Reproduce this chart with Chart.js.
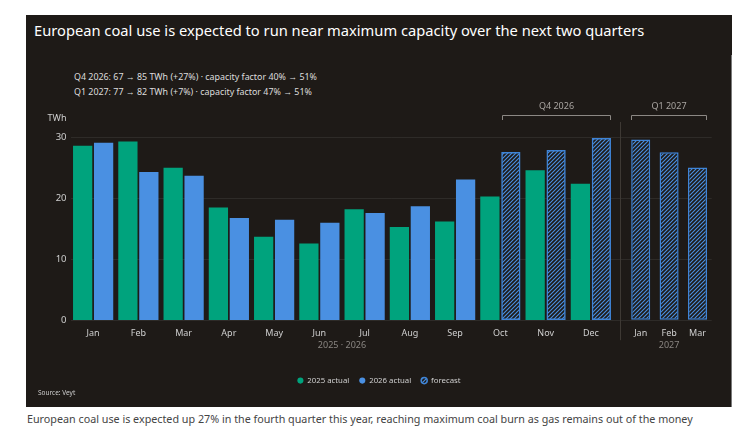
<!DOCTYPE html>
<html><head><meta charset="utf-8">
<script src="https://cdn.jsdelivr.net/npm/chart.js@4"></script>
<style>
html,body{margin:0;padding:0;background:#fff;}
body{width:740px;height:431px;position:relative;overflow:hidden;font-family:'Noto Sans',sans-serif;}
#panel{position:absolute;left:26px;top:15px;width:706px;height:392px;background:#1e1a17;}
#edge{position:absolute;left:731px;top:55px;width:1px;height:352px;background:#7a7a7a;}
#title{position:absolute;left:8px;top:7.6px;font-size:14.7px;line-height:15px;color:#fff;white-space:nowrap;}
.ann{position:absolute;left:48px;font-size:8.9px;line-height:9px;color:#ddd;white-space:nowrap;}
#src{position:absolute;left:12px;top:373.5px;font-size:6.5px;line-height:7px;color:#ccc;white-space:nowrap;}
#cap{position:absolute;left:27px;top:414px;font-size:10.75px;line-height:11px;color:#444;white-space:nowrap;}
canvas{position:absolute;left:0;top:0;}
</style></head>
<body>
<div id="panel">
  <div id="title">European coal use is expected to run near maximum capacity over the next two quarters</div>
  <div class="ann" style="top:56.5px">Q4 2026: 67 → 85 TWh (+27%) · capacity factor 40% → 51%</div>
  <div class="ann" style="top:72px">Q1 2027: 77 → 82 TWh (+7%) · capacity factor 47% → 51%</div>
  <canvas id="c" width="706" height="392"></canvas>
  <div id="src">Source: Veyt</div>
</div>
<div id="edge"></div>
<div id="cap">European coal use is expected up 27% in the fourth quarter this year, reaching maximum coal burn as gas remains out of the money</div>
<script>
// ---- data ----
const months = ['Jan','Feb','Mar','Apr','May','Jun','Jul','Aug','Sep','Oct','Nov','Dec'];
const months2027 = ['Jan','Feb','Mar'];
const actual2025 = [28.5,29.2,24.9,18.4,13.6,12.5,18.1,15.2,16.1,20.2,24.5,22.3];
const actual2026 = [29.0,24.2,23.6,16.7,16.4,15.9,17.5,18.6,23.0];
const forecastQ4 = [27.5,27.8,29.8];
const forecastQ1 = [29.6,27.5,25.0];
const yTicks = [0,10,20,30];
const axisTitleLeft = '2025 · 2026';
const axisTitleRight = '2027';
const bracketLabels = ['Q4 2026','Q1 2027'];
const yUnit = 'TWh';

// ---- styles ----
const GREEN = '#00a37d';
const BLUE = '#4a90e2';
const EDGE = '#3f84d6';
const PANEL = '#1e1a17';
const FONT = "'Noto Sans', sans-serif";
Chart.defaults.font.family = FONT;
const PAIR_OFFSET = 0.2315;   // half slot, in category units
const BAR_W = 18.6;

const canvas = document.getElementById('c');
const ctx = canvas.getContext('2d');
function makeHatch(){
  const s = 4, c = document.createElement('canvas');
  c.width = s; c.height = s;
  const g = c.getContext('2d');
  g.fillStyle = PANEL; g.fillRect(0,0,s,s);
  g.strokeStyle = BLUE; g.lineWidth = 1.1;
  g.beginPath();
  g.moveTo(0,s); g.lineTo(s,0);
  g.moveTo(-1,1); g.lineTo(1,-1);
  g.moveTo(s-1,s+1); g.lineTo(s+1,s-1);
  g.stroke();
  return ctx.createPattern(c,'repeat');
}
const hatch = makeHatch();
const nActual = actual2026.length;
const series2026 = actual2026.concat(forecastQ4);
const isF = c => c.dataIndex >= nActual;
const pts = (arr, dx) => arr.map((v, i) => ({x: i + dx, y: v}));

const overlay = {
  id:'overlay',
  afterDraw(chart){
    const {ctx, chartArea:a, scales} = chart;
    ctx.save();
    ctx.fillStyle = '#cfcfcf'; ctx.font = '9px ' + FONT;
    ctx.textAlign = 'right'; ctx.textBaseline = 'middle';
    ctx.fillText(yUnit, a.left - 4, a.top - 19);
    const sp = scales.sp;
    const dx = Math.round((sp.left + sp.right)/2) + 0.5;
    ctx.strokeStyle = '#3e3934'; ctx.lineWidth = 1;
    ctx.beginPath(); ctx.moveTo(dx, a.top - 15); ctx.lineTo(dx, a.bottom + 20); ctx.stroke();
    const groups = [chart.getDatasetMeta(1).data.slice(nActual), chart.getDatasetMeta(2).data];
    groups.forEach((bars, i) => {
      const f = bars[0], l = bars[bars.length-1];
      const x0 = Math.round(f.x - f.width/2) + 0.5, x1 = Math.round(l.x + l.width/2) - 0.5;
      const y = Math.round(a.top - 22.5) + 0.5;
      ctx.strokeStyle = '#8c8884'; ctx.lineWidth = 1;
      ctx.beginPath(); ctx.moveTo(x0, y + 4.5); ctx.lineTo(x0, y); ctx.lineTo(x1, y); ctx.lineTo(x1, y + 4.5); ctx.stroke();
      ctx.fillStyle = '#a8a4a0'; ctx.textAlign = 'center';
      ctx.fillText(bracketLabels[i], (x0 + x1)/2, a.top - 31);
    });
    ctx.restore();
  }
};

const tickFont = {size:9};
new Chart(ctx, {
  type:'bar',
  data:{
    datasets:[
      {label:'2025 actual', data: pts(actual2025, -PAIR_OFFSET), xAxisID:'x', backgroundColor: GREEN, borderWidth:0,
       grouped:false, barThickness:BAR_W},
      {label:'2026 actual', data: pts(series2026, PAIR_OFFSET), xAxisID:'x',
       backgroundColor: c => isF(c) ? hatch : BLUE,
       borderColor: EDGE, borderWidth: c => isF(c) ? 1.5 : 0, borderSkipped:false,
       grouped:false, barThickness:BAR_W},
      {label:'forecast', data: forecastQ1, xAxisID:'x2', backgroundColor: hatch,
       borderColor: EDGE, borderWidth:1.5, borderSkipped:false, grouped:false,
       categoryPercentage:1, barPercentage:0.67}
    ]
  },
  options:{
    responsive:false, animation:false,
    layout:{padding:{left:20.3, right:20.3, top:122, bottom:12.5}},
    plugins:{
      tooltip:{enabled:false},
      legend:{position:'bottom', labels:{color:'#cfcfcf', font:{size:7.8}, usePointStyle:true, pointStyle:'circle', boxWidth:6, boxHeight:4.3, padding:10}}
    },
    scales:{
      x:{type:'linear', position:'bottom', stack:'bottom', stackWeight:543, offset:false,
         min:-0.5, max:months.length - 0.5,
         grid:{display:false, drawTicks:false, offset:false}, border:{display:false},
         afterBuildTicks: s => { s.ticks = months.map((m, i) => ({value:i})); },
         ticks:{color:'#cfcfcf', font:tickFont, padding:8, maxRotation:0, autoSkip:false, callback: v => months[v]},
         title:{display:true, text:axisTitleLeft, color:'#8a8682', font:{size:9}, padding:{top:0, bottom:16}},
         afterFit: s => { s.height = 46.5; }},
      sp:{type:'category', labels:[''], position:'bottom', stack:'bottom', stackWeight:13, display:false,
         afterFit: s => { s.height = 46.5; }},
      x2:{type:'category', labels: months2027, position:'bottom', stack:'bottom', stackWeight:85.2, offset:true,
         grid:{display:false, drawTicks:false}, border:{display:false},
         ticks:{color:'#cfcfcf', font:tickFont, padding:8, maxRotation:0, autoSkip:false},
         title:{display:true, text:axisTitleRight, color:'#8a8682', font:{size:9}, padding:{top:0, bottom:16}},
         afterFit: s => { s.height = 46.5; }},
      y:{min:0, max:30, position:'left',
         ticks:{stepSize:10, color:'#cfcfcf', font:{size:9.5}, padding:4, callback: v => yTicks.includes(v) ? v : ''},
         grid:{color:'rgba(255,255,255,0.075)', drawTicks:false}, border:{display:false},
         afterFit: s => { s.width = 24.2; }}
    }
  },
  plugins:[overlay]
});
</script>
</body></html>
